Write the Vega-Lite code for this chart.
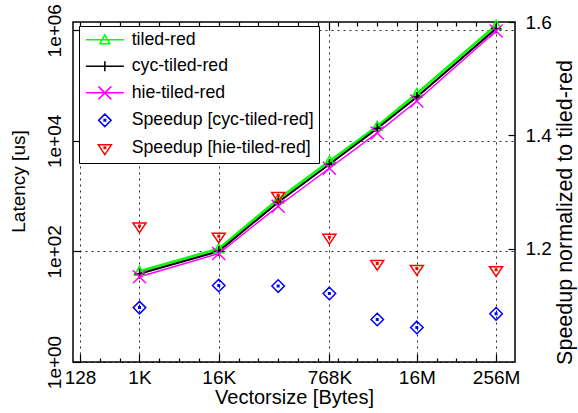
{
  "$schema": "https://vega.github.io/schema/vega-lite/v6.json",
  "width": 442,
  "height": 340,
  "autosize": {"type": "none"},
  "padding": {"left": 73, "top": 22, "right": 63, "bottom": 51},
  "background": "white",
  "config": {
    "font": "Liberation Sans",
    "view": {"stroke": "#000", "strokeWidth": 1.5},
    "axis": {
      "domain": false,
      "gridColor": "#000",
      "gridDash": [2, 4],
      "gridWidth": 1,
      "tickColor": "#000",
      "tickWidth": 1.2,
      "labelColor": "#000",
      "titleColor": "#000",
      "titleFontWeight": "normal",
      "labelFlush": false,
      "labelOverlap": false
    },
    "legend": {
      "orient": "none",
      "legendX": 6,
      "legendY": 4,
      "strokeColor": "#000",
      "fillColor": "#fff",
      "padding": 5,
      "cornerRadius": 0,
      "symbolOffset": 12,
      "labelOffset": 18,
      "rowPadding": 7.5,
      "labelFontSize": 17.7,
      "labelColor": "#000",
      "labelLimit": 400,
      "symbolSize": 100,
      "symbolStrokeWidth": 1.5,
      "symbolOpacity": 1,
      "symbolFillColor": "transparent"
    }
  },
  "datasets": {
    "lat": [
      {"size": 1024, "series": "tiled-red", "latency": 43.7},
      {"size": 16384, "series": "tiled-red", "latency": 112},
      {"size": 131072, "series": "tiled-red", "latency": 878},
      {"size": 786432, "series": "tiled-red", "latency": 4275},
      {"size": 4194304, "series": "tiled-red", "latency": 18360},
      {"size": 16777216, "series": "tiled-red", "latency": 71600},
      {"size": 268435456, "series": "tiled-red", "latency": 1233000},
      {"size": 1024, "series": "cyc-tiled-red", "latency": 39.4},
      {"size": 16384, "series": "cyc-tiled-red", "latency": 100.6},
      {"size": 131072, "series": "cyc-tiled-red", "latency": 774},
      {"size": 786432, "series": "cyc-tiled-red", "latency": 3770},
      {"size": 4194304, "series": "cyc-tiled-red", "latency": 16700},
      {"size": 16777216, "series": "cyc-tiled-red", "latency": 62200},
      {"size": 268435456, "series": "cyc-tiled-red", "latency": 1074000},
      {"size": 1024, "series": "hie-tiled-red", "latency": 34.8},
      {"size": 16384, "series": "hie-tiled-red", "latency": 91.4},
      {"size": 131072, "series": "hie-tiled-red", "latency": 656},
      {"size": 786432, "series": "hie-tiled-red", "latency": 3190},
      {"size": 4194304, "series": "hie-tiled-red", "latency": 13900},
      {"size": 16777216, "series": "hie-tiled-red", "latency": 52600},
      {"size": 268435456, "series": "hie-tiled-red", "latency": 972000}
    ],
    "spd": [
      {"size": 1024, "series": "Speedup [cyc-tiled-red]", "speedup": 1.096},
      {"size": 16384, "series": "Speedup [cyc-tiled-red]", "speedup": 1.135},
      {"size": 131072, "series": "Speedup [cyc-tiled-red]", "speedup": 1.134},
      {"size": 786432, "series": "Speedup [cyc-tiled-red]", "speedup": 1.121},
      {"size": 4194304, "series": "Speedup [cyc-tiled-red]", "speedup": 1.075},
      {"size": 16777216, "series": "Speedup [cyc-tiled-red]", "speedup": 1.061},
      {"size": 268435456, "series": "Speedup [cyc-tiled-red]", "speedup": 1.085},
      {"size": 1024, "series": "Speedup [hie-tiled-red]", "speedup": 1.240},
      {"size": 16384, "series": "Speedup [hie-tiled-red]", "speedup": 1.222},
      {"size": 131072, "series": "Speedup [hie-tiled-red]", "speedup": 1.294},
      {"size": 786432, "series": "Speedup [hie-tiled-red]", "speedup": 1.220},
      {"size": 4194304, "series": "Speedup [hie-tiled-red]", "speedup": 1.174},
      {"size": 16777216, "series": "Speedup [hie-tiled-red]", "speedup": 1.165},
      {"size": 268435456, "series": "Speedup [hie-tiled-red]", "speedup": 1.163}
    ]
  },
  "encoding": {
    "x": {
      "field": "size",
      "type": "quantitative",
      "scale": {"type": "log", "base": 2, "domain": [100, 520000000], "nice": false, "zero": false},
      "axis": {
        "orient": "bottom",
        "grid": true,
        "values": [128, 256, 512, 1024, 2048, 4096, 8192, 16384, 32768, 65536, 131072, 262144, 524288, 786432, 1048576, 2097152, 4194304, 8388608, 16777216, 33554432, 67108864, 134217728, 268435456],
        "labelExpr": "datum.value == 128 ? '128' : datum.value == 1024 ? '1K' : datum.value == 16384 ? '16K' : datum.value == 786432 ? '768K' : datum.value == 16777216 ? '16M' : datum.value == 268435456 ? '256M' : ''",
        "gridOpacity": {"condition": {"test": "indexof([128,1024,16384,786432,16777216,268435456], datum.value) >= 0", "value": 0.85}, "value": 0},
        "tickSize": {"condition": {"test": "indexof([128,1024,16384,786432,16777216,268435456], datum.value) >= 0", "value": -8}, "value": -4},
        "labelFontSize": 19,
        "labelPadding": 14,
        "title": "Vectorsize [Bytes]",
        "titleFontSize": 20,
        "titleBaseline": "alphabetic",
        "titleY": 41
      }
    },
    "color": {
      "field": "series",
      "type": "nominal",
      "scale": {
        "domain": ["tiled-red", "cyc-tiled-red", "hie-tiled-red", "Speedup [cyc-tiled-red]", "Speedup [hie-tiled-red]"],
        "range": ["#00ff00", "#000000", "#ff00ff", "#0000ff", "#ff0000"]
      },
      "legend": {"title": null}
    }
  },
  "layer": [
    {
      "data": {"name": "lat"},
      "encoding": {
        "y": {
          "field": "latency",
          "type": "quantitative",
          "scale": {"type": "log", "domain": [1, 1410000], "nice": false, "zero": false},
          "axis": {
            "orient": "left",
            "grid": true,
            "gridOpacity": 0.85,
            "values": [1, 100, 10000, 1000000],
            "labelExpr": "datum.value < 10 ? '1e+00' : datum.value < 1000 ? '1e+02' : datum.value < 100000 ? '1e+04' : '1e+06'",
            "labelAngle": -90,
            "labelAlign": "center",
            "labelBaseline": "alphabetic",
            "labelFontSize": 19,
            "labelPadding": 20,
            "tickSize": -7,
            "title": "Latency [us]",
            "titleFontSize": 19,
            "titleAngle": -90,
            "titleBaseline": "bottom",
            "titleX": -45,
            "titleY": 159
          }
        }
      },
      "layer": [
        {
          "mark": {"type": "line"},
          "encoding": {
            "strokeWidth": {
              "field": "series",
              "type": "nominal",
              "scale": {"domain": ["tiled-red", "cyc-tiled-red", "hie-tiled-red"], "range": [2.5, 1.5, 2]},
              "legend": null
            }
          }
        },
        {
          "transform": [{"filter": "datum.series === 'tiled-red'"}],
          "mark": {"type": "point", "filled": false, "size": 100, "strokeWidth": 1.5, "opacity": 1, "shape": "M0,-1L1,0.8L-1,0.8Z"}
        },
        {
          "transform": [{"filter": "datum.series === 'cyc-tiled-red'"}],
          "mark": {"type": "point", "filled": false, "size": 100, "strokeWidth": 1.5, "opacity": 1, "shape": "M-1,0L1,0M0,-1L0,1"}
        },
        {
          "transform": [{"filter": "datum.series === 'hie-tiled-red'"}],
          "mark": {"type": "point", "filled": false, "size": 100, "strokeWidth": 1.5, "opacity": 1, "shape": "M-1.3,-1.3L1.3,1.3M-1.3,1.3L1.3,-1.3"}
        }
      ]
    },
    {
      "data": {"name": "spd"},
      "encoding": {
        "x": {
          "field": "size",
          "type": "quantitative",
          "axis": {
            "orient": "top",
            "grid": false,
            "labels": false,
            "title": null,
            "values": [128, 256, 512, 1024, 2048, 4096, 8192, 16384, 32768, 65536, 131072, 262144, 524288, 786432, 1048576, 2097152, 4194304, 8388608, 16777216, 33554432, 67108864, 134217728, 268435456],
            "tickSize": {"condition": {"test": "indexof([128,1024,16384,786432,16777216,268435456], datum.value) >= 0", "value": -8}, "value": -4}
          }
        },
        "y": {
          "field": "speedup",
          "type": "quantitative",
          "scale": {"domain": [1.0, 1.6], "nice": false, "zero": false},
          "axis": {
            "orient": "right",
            "values": [1.2, 1.4, 1.6],
            "format": ".1f",
            "grid": false,
            "labelFontSize": 19,
            "labelPadding": 17,
            "labelAlign": "left",
            "labelBaseline": "middle",
            "tickSize": -7,
            "title": "Speedup normalized to tiled-red",
            "titleFontSize": 21.5,
            "titleAngle": -90,
            "titleBaseline": "bottom",
            "titleX": 61,
            "titleY": 190
          }
        }
      },
      "layer": [
        {
          "transform": [{"filter": "datum.series === 'Speedup [cyc-tiled-red]'"}],
          "mark": {"type": "point", "filled": false, "size": 100, "strokeWidth": 1.5, "opacity": 1, "shape": "M0,-1.25L1.25,0L0,1.25L-1.25,0ZM-0.15,-0.15L0.15,-0.15L0.15,0.15L-0.15,0.15Z"}
        },
        {
          "transform": [{"filter": "datum.series === 'Speedup [hie-tiled-red]'"}],
          "mark": {"type": "point", "filled": false, "size": 100, "strokeWidth": 1.5, "opacity": 1, "shape": "M-1.3,-0.6L1.3,-0.6L0,1.35ZM-0.15,-0.15L0.15,-0.15L0.15,0.15L-0.15,0.15Z"}
        },
        {
          "mark": {"type": "point", "filled": false, "size": 100, "strokeWidth": 1.5, "opacity": 0},
          "encoding": {
            "shape": {
              "field": "series",
              "type": "nominal",
              "scale": {
                "domain": ["tiled-red", "cyc-tiled-red", "hie-tiled-red", "Speedup [cyc-tiled-red]", "Speedup [hie-tiled-red]"],
                "range": [
                  "M-3.8,0L3.8,0M0,-1L1,0.8L-1,0.8Z",
                  "M-3.8,0L3.8,0M0,-1L0,1",
                  "M-3.8,0L3.8,0M-1.3,-1.3L1.3,1.3M-1.3,1.3L1.3,-1.3",
                  "M0,-1.25L1.25,0L0,1.25L-1.25,0ZM-0.15,-0.15L0.15,-0.15L0.15,0.15L-0.15,0.15Z",
                  "M-1.3,-0.6L1.3,-0.6L0,1.35ZM-0.15,-0.15L0.15,-0.15L0.15,0.15L-0.15,0.15Z"
                ]
              },
              "legend": {"title": null}
            }
          }
        }
      ]
    }
  ],
  "resolve": {"scale": {"y": "independent"}}
}
